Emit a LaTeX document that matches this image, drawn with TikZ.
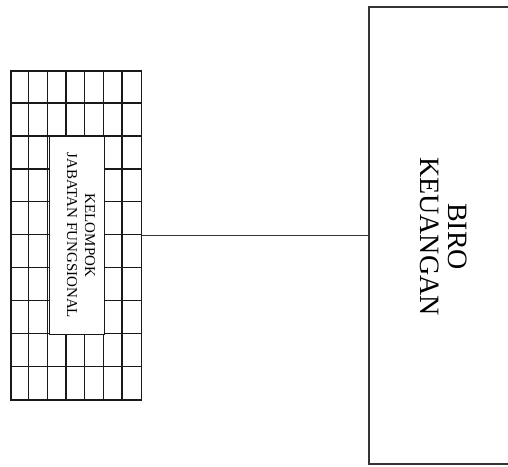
\documentclass[tikz,border=0pt]{standalone}
\usepackage{fontspec}
\setmainfont{Liberation Serif}
\usetikzlibrary{calc}
\begin{document}
\begin{tikzpicture}[x=1pt,y=-1pt,
  gridline/.style={line width=1.3pt,draw=black!90},
  outerbox/.style={draw=black!90,line width=1.6pt,inner sep=0pt},
  bigbox/.style={draw=black!80,line width=1.5pt,inner sep=0pt},
  innerbox/.style={draw=black!90,line width=1.3pt,fill=white,inner sep=0pt},
  smalllabel/.style={font=\fontsize{15}{18}\selectfont,align=center,rotate=-90,inner sep=0pt},
  biglabel/.style={font=\fontsize{28}{28}\selectfont,align=center,rotate=-90,inner sep=0pt}]
\useasboundingbox (0,0) rectangle (508,466);
% grid group
\node[outerbox,minimum width=130.5pt,minimum height=329pt] (kjf) at (76.25,235.5) {};
\foreach \i in {1,...,6} {
  \draw[gridline] ($(kjf.north west)+(\i*18.643,0)$) -- ($(kjf.south west)+(\i*18.643,0)$);
}
\foreach \j in {1,...,9} {
  \draw[gridline] ($(kjf.north west)+(0,\j*32.9)$) -- ($(kjf.north east)+(0,\j*32.9)$);
}
\node[innerbox,minimum width=54.93pt,minimum height=197.4pt] (inner) at (76.75,235.5) {};
\node[smalllabel] (kjftext) at (81,235.5) {KELOMPOK\\JABATAN FUNGSIONAL};
% big box
\node[bigbox,minimum width=200pt,minimum height=457pt] (biro) at (469,235.5) {};
\node[biglabel] (birotext) at (444,236.5) {BIRO\\KEUANGAN};
\draw[bigbox,line width=1.2pt] (kjf.east) -- (biro.west);
\end{tikzpicture}
\end{document}
